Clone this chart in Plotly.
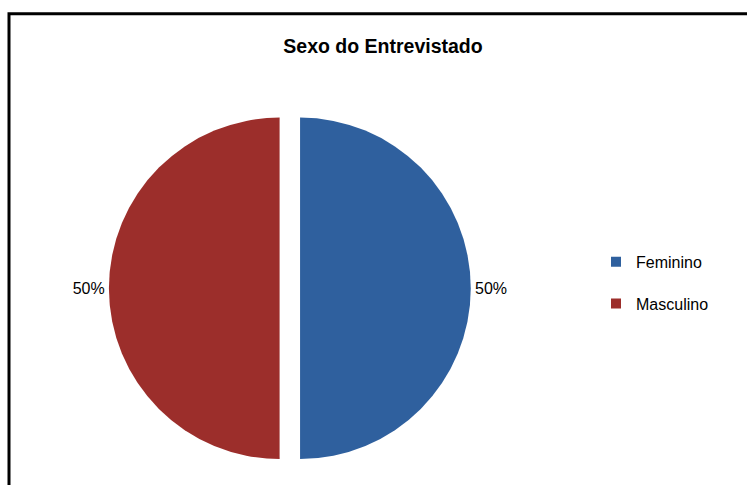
import plotly.graph_objects as go

labels = ["Feminino", "Masculino"]
values = [50, 50]
colors = ["#2F609E", "#9C2E2B"]
title_text = "Sexo do Entrevistado"

W, H = 747, 485

fig = go.Figure()

fig.add_trace(go.Pie(
    labels=labels,
    values=values,
    sort=False,
    direction="clockwise",
    rotation=0,
    pull=[0.06, 0.06],
    marker=dict(colors=colors, line=dict(width=0)),
    texttemplate="%{percent:.0%}",
    textposition="outside",
    outsidetextfont=dict(family="Liberation Sans, Arial, sans-serif", size=16, color="#000000"),
    showlegend=False,
    hoverinfo="label+percent",
    domain=dict(x=[0.14, 0.636], y=[0.008, 0.773]),
))

# legend entries (one group per category for the wide vertical spacing)
for lab, col in zip(labels, colors):
    fig.add_trace(go.Scatter(
        x=[None], y=[None], mode="markers", name=lab,
        marker=dict(symbol="square", size=10, color=col),
        legendgroup=lab, showlegend=True,
    ))

fig.update_xaxes(visible=False)
fig.update_yaxes(visible=False)

fig.update_layout(
    width=W, height=H,
    margin=dict(l=0, r=0, t=0, b=0),
    paper_bgcolor="white",
    plot_bgcolor="white",
    title=dict(
        text="<b>" + title_text + "</b>",
        x=383 / W, xanchor="center",
        y=1 - 46 / H, yanchor="middle",
        font=dict(family="Liberation Sans, Arial, sans-serif", size=19.5, color="#000000"),
    ),
    legend=dict(
        x=596 / W, xanchor="left",
        y=1 - 290 / H, yanchor="middle",
        font=dict(family="Liberation Sans, Arial, sans-serif", size=16, color="#000000"),
        tracegroupgap=18,
        itemwidth=30,
        bgcolor="rgba(0,0,0,0)",
    ),
    shapes=[dict(
        type="rect", xref="paper", yref="paper",
        x0=9 / W, x1=1.05, y0=-0.05, y1=1 - 14 / H,
        line=dict(color="#000000", width=3),
        fillcolor="rgba(0,0,0,0)",
        layer="above",
    )],
)

fig.write_html("out.html")
